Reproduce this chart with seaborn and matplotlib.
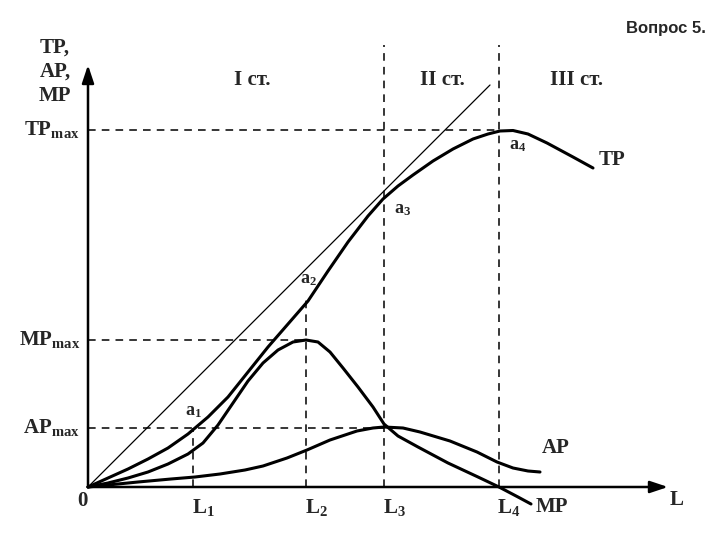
import matplotlib
matplotlib.use("Agg")
import matplotlib.pyplot as plt
import seaborn as sns
import pandas as pd

# ---- data (units, origin at the axes' corner) ----
tp_x = [0, 20, 40, 60, 80, 100, 120, 140, 160, 180, 200, 220, 240, 260, 280, 295, 310, 325, 345, 365, 385, 400, 412, 425, 440, 459, 485, 505]
tp_y = [0, 9, 18, 28, 39, 53, 70, 90, 115, 140, 163, 186, 216, 245, 271, 288, 301, 312, 326, 338, 348, 353, 356, 356.5, 353, 344, 330, 319]

mp_x = [0, 20, 40, 60, 80, 100, 115, 130, 145, 160, 175, 190, 205, 218, 230, 242, 255, 270, 285, 296, 310, 330, 360, 390, 411, 430, 443]
mp_y = [0, 4, 9, 15, 23, 33, 44, 62, 84, 106, 124, 137, 145, 147, 145, 135, 119, 100, 80, 63, 51, 40, 24, 10, 0, -10, -17]

ap_x = [0, 20, 50, 83, 107, 132, 157, 175, 199, 219, 242, 269, 285, 296, 315, 332, 362, 389, 409, 425, 440, 452]
ap_y = [0, 2, 5, 8, 10, 13, 17, 21, 29, 37, 47, 56, 59, 60, 59, 55, 46, 35, 25, 19, 16, 15]

ray_x = [0, 402]
ray_y = [0, 402]

L_names = ["L$_1$", "L$_2$", "L$_3$", "L$_4$"]
L_vals = [105, 218, 296, 411]
L_tops = [59, 187, 442, 442]

TP_max = 357
MP_max = 147
AP_max = 59

stage_labels = ["I ст.", "II ст.", "III ст."]
stage_x = [164, 354, 488]

point_labels = ["a$_1$", "a$_2$", "a$_3$", "a$_4$"]
point_xy = [(105, 75), (220, 207), (315, 277), (430, 342)]

# ---- style ----
sns.set_theme(style="white")
plt.rcParams["font.family"] = ["Liberation Serif", "DejaVu Serif"]
plt.rcParams["font.weight"] = "bold"
plt.rcParams["mathtext.fontset"] = "custom"
plt.rcParams["mathtext.rm"] = "Liberation Serif:bold"
plt.rcParams["mathtext.it"] = "Liberation Serif:bold"
plt.rcParams["mathtext.bf"] = "Liberation Serif:bold"

fig = plt.figure(figsize=(7.2, 5.4), dpi=100)
ax = fig.add_axes([0, 0, 1, 1])
ax.set_xlim(-88, 632)
ax.set_ylim(-53, 487)
ax.axis("off")

df_tp = pd.DataFrame({"L": tp_x, "v": tp_y})
df_mp = pd.DataFrame({"L": mp_x, "v": mp_y})
df_ap = pd.DataFrame({"L": ap_x, "v": ap_y})
df_ray = pd.DataFrame({"L": ray_x, "v": ray_y})

kw = dict(color="black", estimator=None, sort=False, legend=False, ax=ax)
sns.lineplot(data=df_ray, x="L", y="v", linewidth=0.9, **kw)
for d in (df_tp, df_mp, df_ap):
    sns.lineplot(data=d, x="L", y="v", linewidth=2.2, solid_joinstyle="round",
                 solid_capstyle="round", **kw)

dash = dict(color="black", linewidth=1.1, linestyle=(0, (5, 4)))
ax.plot([0, L_vals[3]], [TP_max, TP_max], **dash)
ax.plot([0, L_vals[1]], [MP_max, MP_max], **dash)
ax.plot([0, L_vals[2]], [AP_max, AP_max], **dash)
for lv, top in zip(L_vals, L_tops):
    ax.plot([lv, lv], [0, top], **dash)

# axes with arrows
arr = dict(arrowstyle="-|>,head_length=0.9,head_width=0.3", color="black", lw=1.8, shrinkA=0, shrinkB=0)
ax.annotate("", xy=(580, 0), xytext=(0, 0), arrowprops=arr)
ax.annotate("", xy=(0, 422), xytext=(0, 0), arrowprops=arr)

fs = 15
# y axis title
ax.text(-33, 439, "TP,", fontsize=fs, ha="center", va="center")
ax.text(-33, 415, "AP,", fontsize=fs, ha="center", va="center")
ax.text(-33, 391, "MP", fontsize=fs, ha="center", va="center")

ax.text(-8, TP_max, r"$\mathrm{TP}_{\mathrm{max}}$", fontsize=fs, ha="right", va="center")
ax.text(-8, MP_max, r"$\mathrm{MP}_{\mathrm{max}}$", fontsize=fs, ha="right", va="center")
ax.text(-8, AP_max, r"$\mathrm{AP}_{\mathrm{max}}$", fontsize=fs, ha="right", va="center")

ax.text(-6, -14, "0", fontsize=fs, ha="center", va="center")
for name, lv in zip(L_names, L_vals):
    ax.text(lv + 10, -20, name, fontsize=fs, ha="center", va="center")
ax.text(589, -13, "L", fontsize=fs, ha="center", va="center")

ax.text(468, 39, "AP", fontsize=fs, ha="center", va="center")
ax.text(464, -20, "MP", fontsize=fs, ha="center", va="center")
ax.text(524, 327, "TP", fontsize=fs, ha="center", va="center")

for s, sx in zip(stage_labels, stage_x):
    ax.text(sx, 407, s, fontsize=fs, ha="center", va="center")

for s, (px, py) in zip(point_labels, point_xy):
    ax.text(px, py, s, fontsize=13, ha="center", va="center")

ax.text(618, 459, "Вопрос 5.", fontsize=12, ha="right", va="center",
        family=["Liberation Sans", "DejaVu Sans"], weight="bold")

fig.savefig("out.png", dpi=100)
